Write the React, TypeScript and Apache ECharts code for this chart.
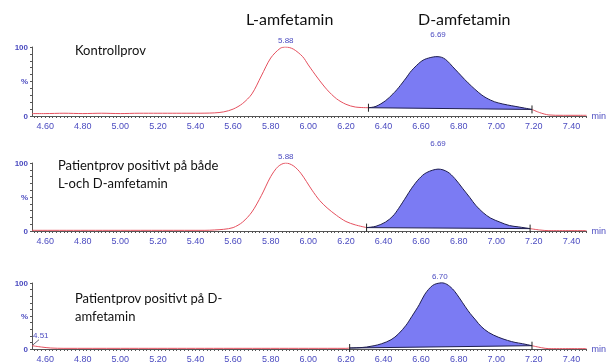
import React, { useEffect, useRef } from "react";
import * as echarts from "echarts";

// ---- data (minutes, % of max) ----
const xTickLabels = [4.6, 4.8, 5.0, 5.2, 5.4, 5.6, 5.8, 6.0, 6.2, 6.4, 6.6, 6.8, 7.0, 7.2, 7.4];
const yTickLabels: Record<number, string> = { 0: "0", 50: "%", 100: "100" };

// Panel 1: Kontrollprov
const p1Trace = [
  [4.53, 3.5], [4.6, 3.5], [4.7, 4], [4.8, 3.5], [4.9, 4], [5.0, 3.5], [5.1, 4], [5.2, 4], [5.3, 4], [5.4, 4],
  [5.5, 4.5], [5.55, 6], [5.6, 10], [5.65, 18], [5.7, 32], [5.75, 58], [5.8, 84], [5.85, 98], [5.88, 100],
  [5.92, 97], [5.97, 86], [6.0, 74], [6.05, 55], [6.1, 38], [6.15, 25], [6.2, 17], [6.25, 13], [6.32, 12],
];
const p1Peak = [
  [6.32, 12], [6.36, 14], [6.41, 22], [6.45, 32], [6.48, 41], [6.52, 55], [6.55, 66], [6.6, 79], [6.64, 84],
  [6.69, 86], [6.73, 82], [6.78, 68], [6.85, 48], [6.92, 31], [6.97, 23], [7.01, 19], [7.06, 16], [7.1, 14],
  [7.15, 11.5], [7.19, 9.5],
];
const p1Base = [[6.32, 12], [7.19, 9.5]];
const p1Tail = [[7.19, 9.5], [7.23, 5], [7.28, 1.5], [7.35, 1], [7.48, 1]];
const p1Labels = [
  { coord: [5.88, 100], name: "5.88", dist: 2 },
  { coord: [6.69, 86], name: "6.69", dist: 18 },
];

// Panel 2: Patientprov positivt på både L- och D-amfetamin
const p2Trace = [
  [4.53, 1], [5.0, 1], [5.45, 1], [5.5, 1.5], [5.55, 2.5], [5.6, 5], [5.65, 13], [5.7, 28], [5.75, 52],
  [5.8, 80], [5.84, 95], [5.88, 100], [5.92, 96], [5.96, 85], [6.02, 60], [6.06, 45], [6.1, 34], [6.15, 23],
  [6.2, 14], [6.25, 9], [6.31, 5],
];
const p2Peak = [
  [6.31, 5], [6.36, 7], [6.41, 13], [6.45, 22], [6.48, 33], [6.52, 50], [6.55, 63], [6.59, 77], [6.63, 86],
  [6.69, 91], [6.74, 87], [6.78, 77], [6.82, 63], [6.86, 49], [6.89, 38], [6.93, 27], [6.97, 19], [7.02, 13],
  [7.07, 8], [7.12, 6], [7.18, 3.5],
];
const p2Base = [[6.31, 5], [7.18, 3.5]];
const p2Tail = [[7.18, 3.5], [7.23, 1.5], [7.28, 0.5], [7.48, 0.5]];
const p2Labels = [
  { coord: [5.88, 100], name: "5.88", dist: 2 },
  { coord: [6.69, 91], name: "6.69", dist: 21 },
];

// Panel 3: Patientprov positivt på D-amfetamin
const p3Trace = [
  [4.53, 5], [4.58, 3], [4.63, 1.5], [4.7, 1], [5.0, 1], [5.4, 1], [5.8, 1], [6.2, 1], [6.22, 1.5],
];
const p3Peak = [
  [6.22, 1.5], [6.27, 2], [6.31, 3], [6.35, 5], [6.39, 8], [6.44, 14], [6.48, 23], [6.52, 36], [6.55, 49],
  [6.59, 67], [6.62, 83], [6.66, 96], [6.7, 100], [6.73, 99], [6.76, 93], [6.79, 83], [6.85, 58], [6.89, 44],
  [6.92, 34], [6.96, 25], [7.01, 18], [7.06, 13], [7.1, 10], [7.14, 8], [7.19, 5],
];
const p3Base = [[6.22, 1.5], [7.19, 5]];
const p3Tail = [[7.19, 5], [7.24, 2], [7.28, 0.5], [7.48, 0.5]];
const p3Labels = [
  { coord: [6.7, 100], name: "6.70", dist: 2 },
];
const p3EdgePeak = { coord: [4.53, 5], name: "4.51" };

const panels = [
  { trace: p1Trace, peak: p1Peak, base: p1Base, tail: p1Tail, labels: p1Labels },
  { trace: p2Trace, peak: p2Peak, base: p2Base, tail: p2Tail, labels: p2Labels },
  { trace: p3Trace, peak: p3Peak, base: p3Base, tail: p3Tail, labels: p3Labels },
];

const BLUE_TEXT = "#4b4bc0";
const RED = "#e5505e";
const AXIS = "#555";
const FILL = "#7b7bf3";

function smoothPath(pts: number[][]): string {
  const n = pts.length;
  let d = `M${pts[0][0]},${pts[0][1]}`;
  for (let i = 0; i < n - 1; i++) {
    const p0 = pts[Math.max(i - 1, 0)];
    const p1 = pts[i];
    const p2 = pts[i + 1];
    const p3 = pts[Math.min(i + 2, n - 1)];
    const c1x = p1[0] + (p2[0] - p0[0]) / 6;
    const c1y = p1[1] + (p2[1] - p0[1]) / 6;
    const c2x = p2[0] - (p3[0] - p1[0]) / 6;
    const c2y = p2[1] - (p3[1] - p1[1]) / 6;
    d += ` C${c1x},${c1y} ${c2x},${c2y} ${p2[0]},${p2[1]}`;
  }
  return d;
}

export default function App() {
  const ref = useRef<HTMLDivElement>(null);
  useEffect(() => {
    if (!ref.current) return;
    const chart = echarts.init(ref.current, null, { renderer: "svg" });

    const minorTicks: number[] = [];
    for (let k = 227; k <= 374; k++) minorTicks.push(k / 50);

    const gridPos = [
      { top: 47, height: 69 },
      { top: 163, height: 68 },
      { top: 283, height: 68 },
    ];

    const grid = gridPos.map((g) => ({ left: 32, right: 19, top: g.top, height: g.height }));
    const xAxis = gridPos.map((_, i) => ({
      type: "value",
      gridIndex: i,
      min: 4.53,
      max: 7.48,
      name: "min",
      nameLocation: "end",
      nameGap: 5,
      nameTextStyle: { color: BLUE_TEXT, fontSize: 9, fontFamily: "Liberation Sans", verticalAlign: "middle" },
      axisLine: { show: true, lineStyle: { color: AXIS, width: 1 } },
      axisTick: { show: true, customValues: minorTicks, length: 2, lineStyle: { color: AXIS } },
      axisLabel: {
        show: true,
        customValues: xTickLabels,
        formatter: (v: number) => v.toFixed(2),
        color: BLUE_TEXT,
        fontSize: 9,
        fontFamily: "Liberation Sans",
        margin: 5,
      },
      splitLine: { show: false },
    }));
    const yAxis = gridPos.map((_, i) => ({
      type: "value",
      gridIndex: i,
      min: 0,
      max: 100,
      interval: 10,
      axisLine: { show: true, lineStyle: { color: AXIS, width: 1 } },
      axisTick: { show: true, length: 2, lineStyle: { color: AXIS } },
      axisLabel: {
        show: true,
        formatter: (v: number) => yTickLabels[v] ?? "",
        color: BLUE_TEXT,
        fontSize: 8,
        fontFamily: "Liberation Sans",
        fontWeight: "bold",
        margin: 4,
      },
      splitLine: { show: false },
    }));

    const series: any[] = [];
    panels.forEach((p, i) => {
      series.push({
        type: "line",
        xAxisIndex: i,
        yAxisIndex: i,
        data: p.trace,
        showSymbol: false,
        smooth: 0.3,
        lineStyle: { color: RED, width: 1 },
        z: 3,
        markPoint: {
          symbol: "circle",
          symbolSize: 1,
          itemStyle: { color: "rgba(0,0,0,0)" },
          data: p.labels.map((l) => ({
            coord: l.coord,
            name: l.name,
            label: {
              show: true,
              position: "top",
              distance: l.dist,
              formatter: l.name,
              color: BLUE_TEXT,
              fontSize: 8,
              fontFamily: "Liberation Sans",
            },
          })),
        },
      });
      series.push({
        type: "line",
        xAxisIndex: i,
        yAxisIndex: i,
        data: p.tail,
        showSymbol: false,
        smooth: 0.3,
        lineStyle: { color: RED, width: 1 },
        z: 3,
      });
      const peak = p.peak;
      const base = p.base;
      series.push({
        type: "custom",
        xAxisIndex: i,
        yAxisIndex: i,
        data: peak,
        encode: { x: 0, y: 1 },
        z: 4,
        renderItem: (params: any, api: any) => {
          if (params.dataIndex !== 0) return null;
          const pts = peak.map((q) => api.coord(q));
          const b0 = api.coord(base[0]);
          const b1 = api.coord(base[1]);
          const d = smoothPath(pts) + ` L${b1[0]},${b1[1]} L${b0[0]},${b0[1]} Z`;
          return {
            type: "group",
            children: [
              { type: "path", shape: { pathData: d }, style: { fill: FILL, stroke: "#1e1e4e", lineWidth: 1 } },
              {
                type: "line",
                shape: { x1: b0[0], y1: b0[1] - 4, x2: b0[0], y2: b0[1] + 4 },
                style: { stroke: "#222", lineWidth: 1 },
              },
              {
                type: "line",
                shape: { x1: b1[0], y1: b1[1] - 4, x2: b1[0], y2: b1[1] + 4 },
                style: { stroke: "#222", lineWidth: 1 },
              },
            ],
          };
        },
      });
    });

    const textStyle = { fill: "#111", fontFamily: "Lato", fontSize: 13 };
    const texts: any[] = [
      { type: "text", left: 246, top: 10, style: { ...textStyle, text: "L-amfetamin", fontSize: 16 } },
      { type: "text", left: 418, top: 10, style: { ...textStyle, text: "D-amfetamin", fontSize: 16 } },
      { type: "text", left: 75, top: 43, style: { ...textStyle, text: "Kontrollprov" } },
      {
        type: "text",
        left: 58,
        top: 156,
        style: { ...textStyle, text: "Patientprov positivt på både\nL-och D-amfetamin", lineHeight: 18 },
      },
      {
        type: "text",
        left: 75,
        top: 289,
        style: { ...textStyle, text: "Patientprov positivt på D-\namfetamin", lineHeight: 18 },
      },
    ];
    chart.setOption({
      animation: false,
      grid,
      xAxis,
      yAxis,
      series,
      graphic: texts,
    });

    const e = chart.convertToPixel({ xAxisIndex: 2, yAxisIndex: 2 }, p3EdgePeak.coord) as number[];
    chart.setOption({
      graphic: [
        ...texts,
        {
          type: "line",
          shape: { x1: e[0], y1: e[1], x2: e[0] + 7, y2: e[1] - 6 },
          style: { stroke: "#445", lineWidth: 0.8 },
        },
        {
          type: "text",
          x: e[0] + 1,
          y: e[1] - 14,
          style: { text: p3EdgePeak.name, fill: BLUE_TEXT, fontSize: 8, fontFamily: "Liberation Sans" },
        },
      ],
    });

    return () => chart.dispose();
  }, []);
  return <div ref={ref} style={{ position: "fixed", left: 0, top: 0, width: 607, height: 363 }} />;
}
